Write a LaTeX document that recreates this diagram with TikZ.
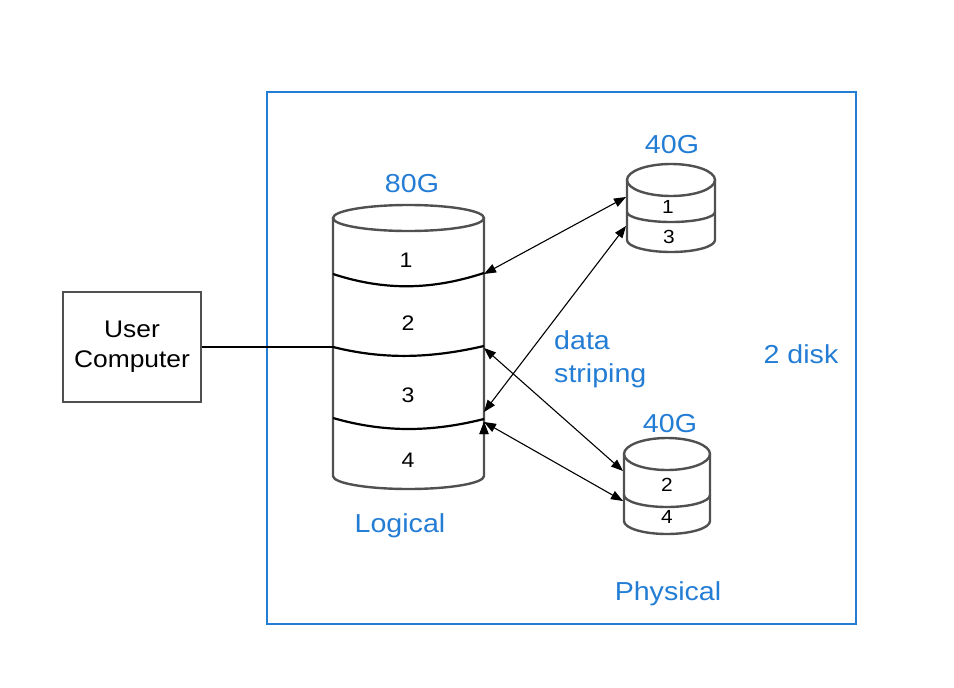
\documentclass[tikz,border=0pt]{standalone}
\usepackage{fontspec}
\setmainfont[FakeStretch=1.1]{Liberation Sans}
\usetikzlibrary{arrows.meta, positioning}
\definecolor{labelblue}{RGB}{36,125,212}
\definecolor{diskgray}{RGB}{80,80,80}

\begin{document}
\begin{tikzpicture}[x=1pt, y=-1pt,
    every node/.style = {inner sep=0pt},
    bluelabel/.style = {text=labelblue, font=\fontsize{26}{33}\selectfont},
    numlabel/.style = {font=\fontsize{21}{24}\selectfont},
    smallnum/.style = {font=\fontsize{19}{22}\selectfont},
    disk/.style = {draw=diskgray, line width=2.4pt},
    divider/.style = {draw=black, line width=2.2pt},
    link/.style = {draw=black, line width=1.1pt},
    stripe/.style = {link, {Triangle[length=12pt, width=9pt]}-{Triangle[length=12pt, width=9pt]}}]
    \useasboundingbox (0,0) rectangle (954,688);
    % outer frame
    \draw [labelblue, line width=2.5pt] (267,92) rectangle (856,624);
    \node (user) [draw=diskgray, line width=2.6pt, minimum width=138pt,
        minimum height=110pt, align=center,
        font=\fontsize{24}{30}\selectfont] at (132,347) {User\\Computer};

    % logical disk
    \draw [disk] (333,218) -- (333,476)
        arc [start angle=180, end angle=0, x radius=75.5, y radius=13] -- (484,218);
    \draw [disk] (408.5,218) ellipse [x radius=75.5, y radius=13];
    \draw [divider] (333,274) .. controls (385,291) and (432,290) .. (484,273);
    \draw [divider] (333,347) .. controls (385,360) and (432,358) .. (484,346);
    \draw [divider] (333,418) .. controls (385,433) and (432,432) .. (484,419);
    \coordinate (L1) at (484,274);
    \coordinate (L2) at (484,348);
    \coordinate (L3a) at (484,412);
    \coordinate (L3b) at (484,422);
    \coordinate (Lin) at (333,347);
    \node (n1) [numlabel, anchor=base] at (406,267) {1};
    \node (n2) [numlabel, anchor=base] at (408,330) {2};
    \node (n3) [numlabel, anchor=base] at (408,402) {3};
    \node (n4) [numlabel, anchor=base] at (408,467) {4};

    % physical disk A
    \draw [disk] (627,180) -- (627,240)
        arc [start angle=180, end angle=0, x radius=44, y radius=12] -- (715,180);
    \draw [disk] (671,180) ellipse [x radius=44, y radius=16];
    \draw [disk] (627,212) arc [start angle=180, end angle=0, x radius=44, y radius=10];
    \coordinate (A1) at (626,197);
    \coordinate (A3) at (626,226);
    \node (a1) [smallnum, anchor=base] at (668,213) {1};
    \node (a3) [smallnum, anchor=base] at (669,243) {3};

    % physical disk B
    \draw [disk] (624,454) -- (624,521)
        arc [start angle=180, end angle=0, x radius=43, y radius=13] -- (710,454);
    \draw [disk] (667,454) ellipse [x radius=43, y radius=16];
    \draw [disk] (624,495) arc [start angle=180, end angle=0, x radius=43, y radius=12];
    \coordinate (B2) at (623,471);
    \coordinate (B4) at (623,501);
    \node (b2) [smallnum, anchor=base] at (667,491) {2};
    \node (b4) [smallnum, anchor=base] at (667,523) {4};

    % labels
    \node (cap80) [bluelabel, anchor=base] at (412,192) {80G};
    \node (capA) [bluelabel, anchor=base] at (672,153) {40G};
    \node (capB) [bluelabel, anchor=base] at (670,432) {40G};
    \node (logical) [bluelabel, anchor=base] at (400,532) {Logical};
    \node (physical) [bluelabel, anchor=base] at (668,600) {Physical};
    \node (striping) [bluelabel, align=left, anchor=west] at (554,359) {data\\striping};
    \node (twodisk) [bluelabel, anchor=base] at (801,363) {2 disk};

    \draw [link] (user.east) -- (Lin);
    \path [stripe]
        (L1) edge (A1)
        (L3a) edge (A3)
        (L2) edge (B2)
        (L3b) edge (B4);
\end{tikzpicture}
\end{document}
